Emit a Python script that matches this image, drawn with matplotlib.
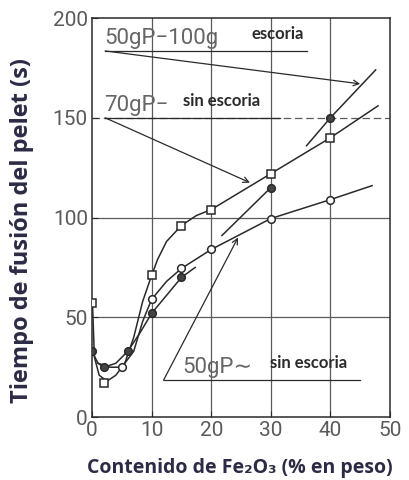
import numpy as np
import matplotlib.pyplot as plt

# measured points (Fe2O3 %, melting time s)
sq_x = [0, 2, 10, 15, 20, 30, 40]
sq_y = [57, 17, 71, 96, 104, 122, 140]
oc_x = [5, 10, 15, 20, 30, 40]
oc_y = [25, 59, 74.5, 84, 99.5, 109]
fc_x = [0, 2, 6, 10, 15, 30, 40]
fc_y = [33, 25, 33, 52, 70, 115, 150]

# curve traces (nan = break in the drawn line)
sq_line_x = [0.1, 0.4, 1.2, 2.5, 4, 5.5, 7, 8.5, 10, 11, 12.5, 15, 17.5, 20, 30, 40, 48]
sq_line_y = [55, 30, 21, 18, 21, 27, 40, 58, 71, 79, 88, 96, 101, 104, 122, 140, 156]
oc_line_x = [1, 3, 5, 7, 8.5, 10, 12.5, 15, 20, 30, 40, 47]
oc_line_y = [27, 25, 25, 33, 48, 59, 68, 74.5, 84, 99.5, 109, 116]
fc_line_x = [0, 1, 2, 4, 6, 8, 10, 15, 17.3, np.nan, 21.8, 30, np.nan, 36, 40, 47.6]
fc_line_y = [33, 27, 25, 27, 33, 42, 52, 70, 75, np.nan, 91, 115, np.nan, 136, 150, 174]

x_ticks = [0, 10, 20, 30, 40, 50]
y_ticks = [0, 50, 100, 150, 200]

ink = '#2a2a2a'
grey = '#5a5a5a'
thin = ['Roboto', 'DejaVu Sans']
bold = ['Lato', 'DejaVu Sans']
wide = ['Open Sans', 'DejaVu Sans']
navy = '#2b2b45'

fig = plt.figure(figsize=(4.09, 4.8), dpi=100)
ax = fig.add_axes([0.225, 0.131, 0.7285, 0.8315])

for gx in [10, 20, 30, 40]:
    ax.axvline(gx, color=grey, lw=0.9, zorder=1)
for gy in [50, 100]:
    ax.axhline(gy, color=grey, lw=0.9, zorder=1)
ax.axhline(150, color=grey, lw=0.9, ls=(0, (6, 3)), zorder=1)

ax.plot(sq_line_x, sq_line_y, color=ink, lw=1.1, zorder=2)
ax.plot(oc_line_x, oc_line_y, color=ink, lw=1.1, zorder=2)
ax.plot(fc_line_x, fc_line_y, color=ink, lw=1.1, zorder=2)

ax.plot(sq_x, sq_y, 's', ms=5.5, mfc='white', mec=ink, mew=1.1, ls='none', zorder=3)
ax.plot(oc_x, oc_y, 'o', ms=5.5, mfc='white', mec=ink, mew=1.1, ls='none', zorder=3)
ax.plot(fc_x, fc_y, 'o', ms=5.5, mfc='#444444', mec=ink, mew=1.1, ls='none', zorder=3)

arrow = dict(arrowstyle='->', color=ink, lw=0.9, shrinkA=0, shrinkB=0)

# 50gP-100g escoria
ax.plot([2.2, 36], [183.5, 183.5], color=ink, lw=0.9)
ax.annotate('', xy=(45, 167), xytext=(2.2, 183.5), arrowprops=arrow)
ax.text(2.0, 184.5, '50gP\u2212100g', fontsize=16, family=thin, color='#666666', va='bottom')
ax.text(26.8, 192, 'escoria', fontsize=12, family=bold, fontweight='bold', color=ink, va='center')

# 70gP - sin escoria
ax.plot([2.2, 31.5], [150, 150], color=ink, lw=0.9)
ax.annotate('', xy=(26.5, 117.5), xytext=(2.2, 150), arrowprops=arrow)
ax.text(2.0, 151, '70gP\u2212', fontsize=16, family=thin, color='#666666', va='bottom')
ax.text(15.3, 158.5, 'sin escoria', fontsize=12, family=bold, fontweight='bold', color=ink, va='center')

# 50gP ~ sin escoria
ax.plot([12, 45], [18.5, 18.5], color=ink, lw=0.9)
ax.annotate('', xy=(24.5, 90), xytext=(12, 18.5), arrowprops=arrow)
ax.text(15.1, 19.5, '50gP\u223c', fontsize=16, family=thin, color='#666666', va='bottom')
ax.text(29.9, 27, 'sin escoria', fontsize=12, family=bold, fontweight='bold', color=ink, va='center')

ax.set_xlim(0, 50)
ax.set_ylim(0, 200)
ax.set_xticks(x_ticks)
ax.set_yticks(y_ticks)
ax.tick_params(direction='in', length=4, color=ink, labelcolor=grey, labelsize=15, pad=3)
for lab in ax.get_xticklabels() + ax.get_yticklabels():
    lab.set_family(thin)
for s in ax.spines.values():
    s.set_color(ink)
    s.set_linewidth(1.1)

fig.text(0.587, 0.024, 'Contenido de Fe\u2082O\u2083 (% en peso)', fontsize=14, family=wide,
         fontweight='bold', color=navy, ha='center', va='center')
fig.text(0.055, 0.52, 'Tiempo de fusión del pelet (s)', fontsize=17, family=wide,
         fontweight='bold', color=navy, ha='center', va='center', rotation=90)

fig.savefig('out.png', dpi=100)
